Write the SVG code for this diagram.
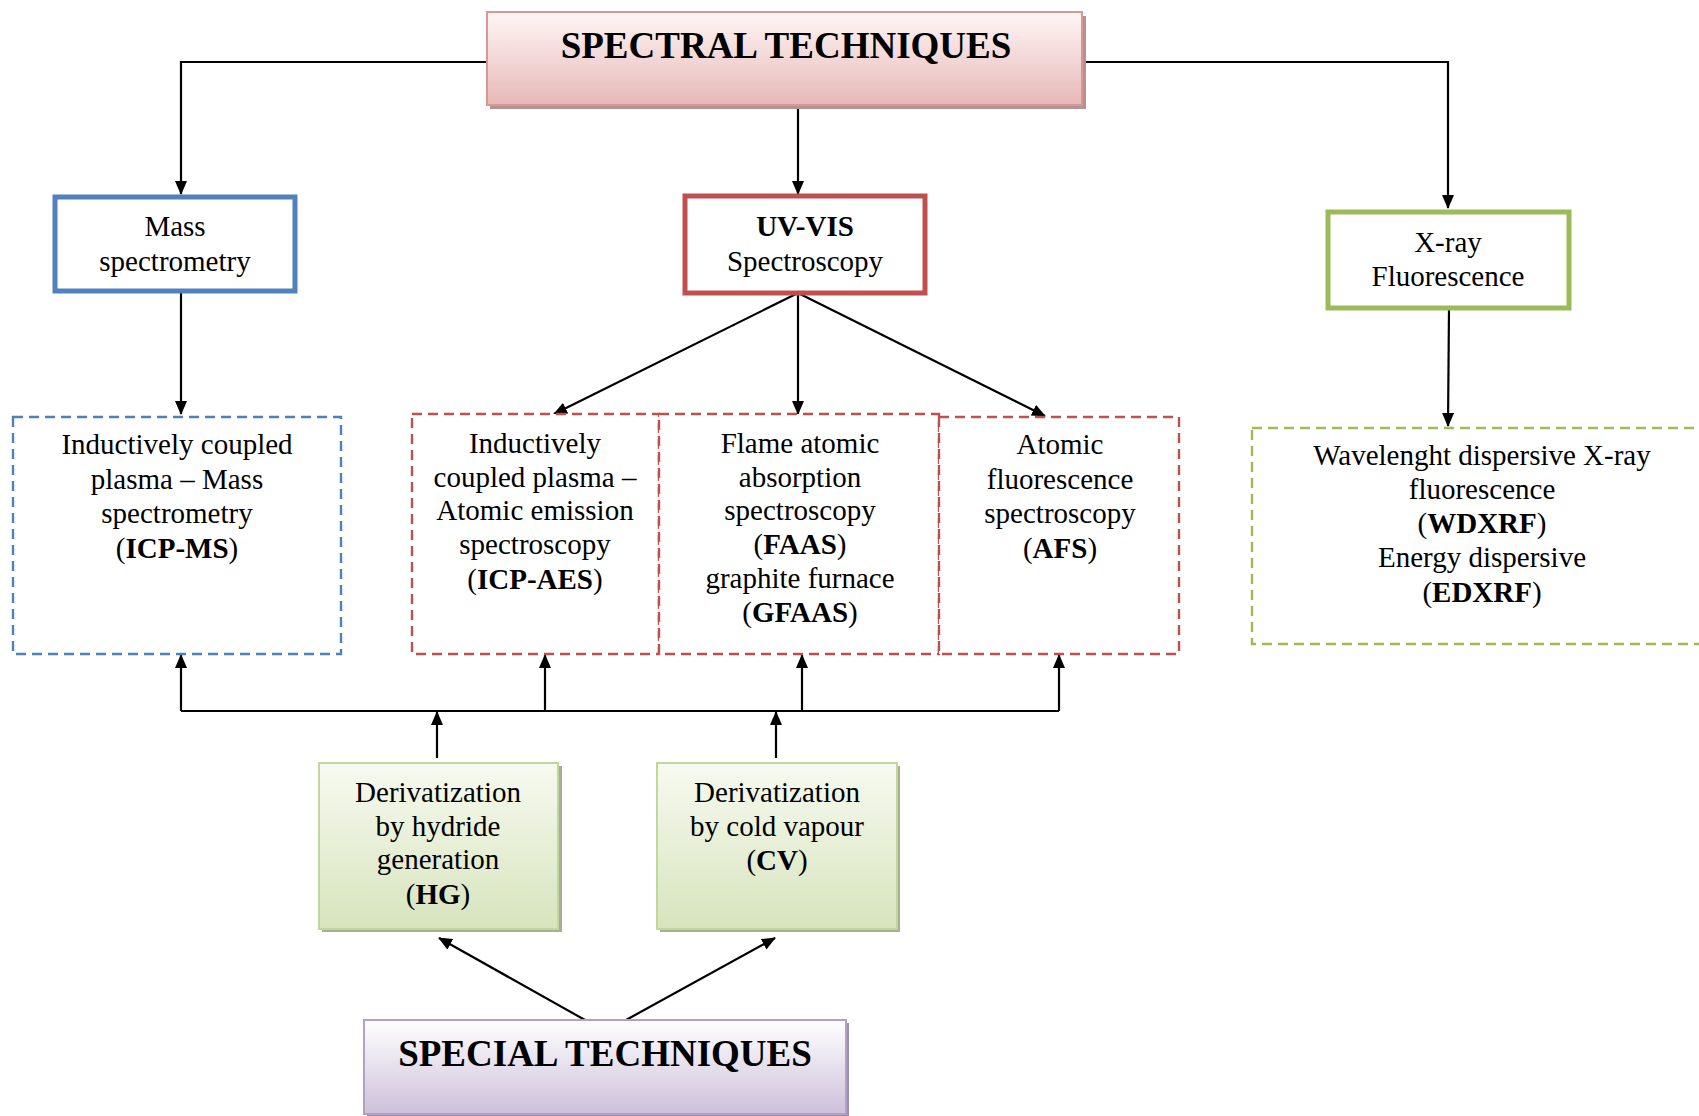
<svg xmlns="http://www.w3.org/2000/svg" width="1699" height="1116" viewBox="0 0 1699 1116">
<style>
text{font-family:"Liberation Serif","Times New Roman",serif;fill:#000;text-anchor:middle}
.t{font-size:29px}
.h{font-size:37px;font-weight:bold}
.b{font-weight:bold}
.c{fill:none;stroke:#000;stroke-width:2.2}
.dash{fill:#fff;stroke-width:2.4;stroke-dasharray:10 6}
</style>
<defs>
<marker id="ar" viewBox="0 0 14 12" refX="13" refY="6" markerWidth="14" markerHeight="12" markerUnits="userSpaceOnUse" orient="auto">
<path d="M0,0 L14,6 L0,12 Z" fill="#000"/>
</marker>
<linearGradient id="gR" x1="0" y1="0" x2="0" y2="1"><stop offset="0" stop-color="#FFF6F6"/><stop offset="1" stop-color="#E6B8B7"/></linearGradient>
<linearGradient id="gG" x1="0" y1="0" x2="0" y2="1"><stop offset="0" stop-color="#F7FAF0"/><stop offset="1" stop-color="#D7E4BD"/></linearGradient>
<linearGradient id="gP" x1="0" y1="0" x2="0" y2="1"><stop offset="0" stop-color="#FFFFFF"/><stop offset="1" stop-color="#CCC0DA"/></linearGradient>
</defs>
<rect width="1699" height="1116" fill="#fff"/>

<g id="connectors">
<polyline class="c" points="486,62 181,62 181,194" marker-end="url(#ar)"/>
<polyline class="c" points="1084,62 1448,62 1448,208" marker-end="url(#ar)"/>
<line class="c" x1="798" y1="102" x2="798" y2="194" marker-end="url(#ar)"/>
<line class="c" x1="181" y1="291" x2="181" y2="414" marker-end="url(#ar)"/>
<line class="c" x1="798" y1="293" x2="554" y2="414" marker-end="url(#ar)"/>
<line class="c" x1="798" y1="293" x2="798" y2="414" marker-end="url(#ar)"/>
<line class="c" x1="798" y1="293" x2="1045" y2="416" marker-end="url(#ar)"/>
<line class="c" x1="1449" y1="308" x2="1448" y2="426" marker-end="url(#ar)"/>
<polyline class="c" points="181,711 1059,711"/>
<line class="c" x1="181" y1="711" x2="181" y2="655" marker-end="url(#ar)"/>
<line class="c" x1="545" y1="711" x2="545" y2="655" marker-end="url(#ar)"/>
<line class="c" x1="802" y1="711" x2="802" y2="655" marker-end="url(#ar)"/>
<line class="c" x1="1059" y1="711" x2="1059" y2="655" marker-end="url(#ar)"/>
<line class="c" x1="437" y1="758" x2="437" y2="712" marker-end="url(#ar)"/>
<line class="c" x1="776" y1="758" x2="776" y2="712" marker-end="url(#ar)"/>
<line class="c" x1="585" y1="1020" x2="439" y2="938" marker-end="url(#ar)"/>
<line class="c" x1="626" y1="1020" x2="775" y2="938" marker-end="url(#ar)"/>
</g>

<g id="spectral">
<rect x="490" y="16" width="596" height="93" fill="#B39292"/>
<rect x="487" y="12" width="595" height="93" fill="url(#gR)" stroke="#D99694" stroke-width="2"/>
<text class="h" x="786" y="58">SPECTRAL TECHNIQUES</text>
</g>

<g id="mass">
<rect x="55" y="197" width="240" height="94" fill="#fff" stroke="#4F81BD" stroke-width="5"/>
<text class="t" x="175" y="236">Mass</text>
<text class="t" x="175" y="271">spectrometry</text>
</g>

<g id="uvvis">
<rect x="685" y="196" width="240" height="97" fill="#fff" stroke="#C0504D" stroke-width="5"/>
<text class="t b" x="805" y="236">UV-VIS</text>
<text class="t" x="805" y="271">Spectroscopy</text>
</g>

<g id="xray">
<rect x="1328" y="212" width="241" height="96" fill="#fff" stroke="#9BBB59" stroke-width="5"/>
<text class="t" x="1448" y="252">X-ray</text>
<text class="t" x="1448" y="286">Fluorescence</text>
</g>

<g id="icpms">
<rect class="dash" x="13" y="417" width="328" height="237" stroke="#4F81BD"/>
<text class="t" x="177" y="454">Inductively coupled</text>
<text class="t" x="177" y="489">plasma – Mass</text>
<text class="t" x="177" y="523">spectrometry</text>
<text class="t" x="177" y="558">(<tspan class="b">ICP-MS</tspan>)</text>
</g>

<g id="icpaes">
<rect class="dash" x="412" y="414" width="247" height="240" stroke="#C0504D"/>
<text class="t" x="535" y="453">Inductively</text>
<text class="t" x="535" y="487">coupled plasma –</text>
<text class="t" x="535" y="520">Atomic emission</text>
<text class="t" x="535" y="554">spectroscopy</text>
<text class="t" x="535" y="589">(<tspan class="b">ICP-AES</tspan>)</text>
</g>

<g id="faas">
<rect class="dash" x="659" y="414" width="280" height="240" stroke="#C0504D"/>
<text class="t" x="800" y="453">Flame atomic</text>
<text class="t" x="800" y="487">absorption</text>
<text class="t" x="800" y="520">spectroscopy</text>
<text class="t" x="800" y="554">(<tspan class="b">FAAS</tspan>)</text>
<text class="t" x="800" y="588">graphite furnace</text>
<text class="t" x="800" y="622">(<tspan class="b">GFAAS</tspan>)</text>
</g>

<g id="afs">
<rect class="dash" x="939" y="417" width="240" height="237" stroke="#C0504D"/>
<text class="t" x="1060" y="454">Atomic</text>
<text class="t" x="1060" y="489">fluorescence</text>
<text class="t" x="1060" y="523">spectroscopy</text>
<text class="t" x="1060" y="558">(<tspan class="b">AFS</tspan>)</text>
</g>

<g id="xrf">
<rect class="dash" x="1252" y="428" width="470" height="216" stroke="#9BBB59"/>
<text class="t" x="1482" y="465">Wavelenght dispersive X-ray</text>
<text class="t" x="1482" y="499">fluorescence</text>
<text class="t" x="1482" y="533">(<tspan class="b">WDXRF</tspan>)</text>
<text class="t" x="1482" y="567">Energy dispersive</text>
<text class="t" x="1482" y="602">(<tspan class="b">EDXRF</tspan>)</text>
</g>

<g id="hg">
<rect x="322" y="766" width="240" height="166" fill="#A7AE92"/>
<rect x="319" y="763" width="239" height="166" fill="url(#gG)" stroke="#C3D69B" stroke-width="2"/>
<text class="t" x="438" y="802">Derivatization</text>
<text class="t" x="438" y="836">by hydride</text>
<text class="t" x="438" y="869">generation</text>
<text class="t" x="438" y="904">(<tspan class="b">HG</tspan>)</text>
</g>

<g id="cv">
<rect x="660" y="766" width="240" height="166" fill="#A7AE92"/>
<rect x="657" y="763" width="240" height="166" fill="url(#gG)" stroke="#C3D69B" stroke-width="2"/>
<text class="t" x="777" y="802">Derivatization</text>
<text class="t" x="777" y="836">by cold vapour</text>
<text class="t" x="777" y="870">(<tspan class="b">CV</tspan>)</text>
</g>

<g id="special">
<rect x="367" y="1023" width="482" height="94" fill="#9E8FB0"/>
<rect x="364" y="1020" width="482" height="94" fill="url(#gP)" stroke="#B2A1C7" stroke-width="2"/>
<text class="h" x="605" y="1066">SPECIAL TECHNIQUES</text>
</g>
</svg>
